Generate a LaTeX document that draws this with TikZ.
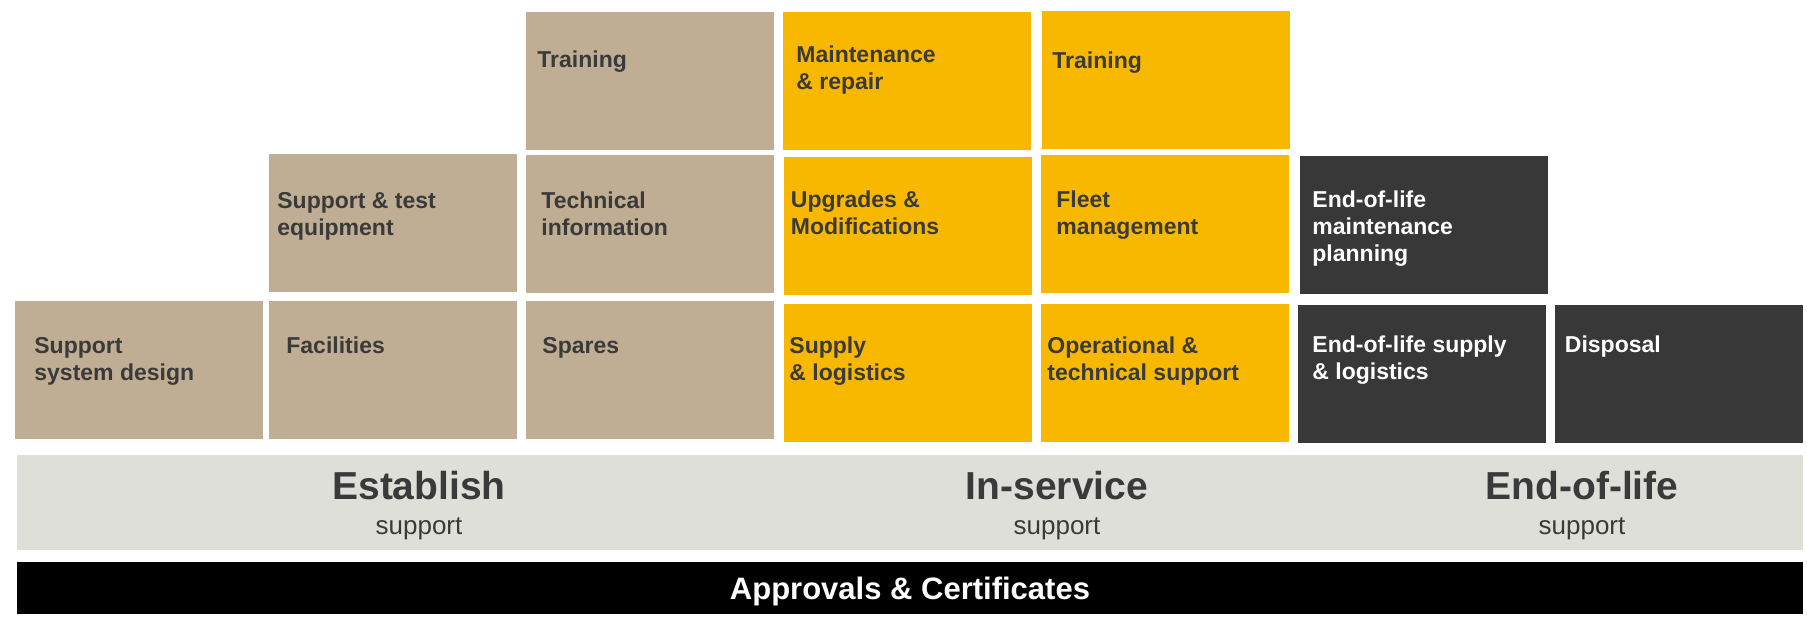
\documentclass[tikz,border=0pt]{standalone}
\usepackage{fontspec}
\setmainfont{Liberation Sans}
\definecolor{tan}{HTML}{BFAE94}
\definecolor{gold}{HTML}{F9B800}
\definecolor{dark}{HTML}{383838}
\definecolor{band}{HTML}{DFDFDA}
\definecolor{ink}{HTML}{3A3A3A}
\newcommand\mlines[1]{\begin{tabular}[t]{@{}l@{}}#1\end{tabular}}
\begin{document}
\begin{tikzpicture}[x=0.5pt,y=-0.5pt,
  cell/.style={anchor=north west, inner sep=0pt, minimum width=124pt, minimum height=69pt},
  txt/.style={anchor=base west, inner sep=0pt, text=ink, font=\bfseries\fontsize{11.5}{13.5}\selectfont},
  wtxt/.style={txt, text=white},
  phase/.style={anchor=base, inner sep=0pt, text=ink, font=\bfseries\fontsize{19.5}{23}\selectfont},
  sub/.style={anchor=base, inner sep=0pt, text=ink, font=\fontsize{13}{15}\selectfont}]
\useasboundingbox (0,0) rectangle (1807,621);

% Establish (tan)
\node[cell, fill=tan] (ssd) at (15,301) {};
\node[cell, fill=tan] (fac) at (268.5,301) {};
\node[cell, fill=tan] (spa) at (525.5,301) {};
\node[cell, fill=tan] (ste) at (268.5,154) {};
\node[cell, fill=tan] (tec) at (525.5,154.5) {};
\node[cell, fill=tan] (tre) at (525.5,11.5) {};
% In-service (gold)
\node[cell, fill=gold] (mnt) at (782.5,12) {};
\node[cell, fill=gold] (try) at (1042,11) {};
\node[cell, fill=gold] (upg) at (783.5,157) {};
\node[cell, fill=gold] (flt) at (1040.5,155) {};
\node[cell, fill=gold] (sal) at (783.5,304) {};
\node[cell, fill=gold] (opr) at (1040.5,304) {};
% End-of-life (dark)
\node[cell, fill=dark] (eom) at (1300,156) {};
\node[cell, fill=dark] (eos) at (1297.5,305) {};
\node[cell, fill=dark] (dsp) at (1555,305) {};

% cell texts
\node[txt] (ssdt) at (34,353) {\mlines{Support\\system design}};
\node[txt] (fact) at (286,353) {Facilities};
\node[txt] (spat) at (542,353) {Spares};
\node[txt] (stet) at (277,208) {\mlines{Support \& test\\equipment}};
\node[txt] (tect) at (541,208) {\mlines{Technical\\information}};
\node[txt] (tret) at (537,67) {Training};
\node[txt] (mntt) at (796,62) {\mlines{Maintenance\\\& repair}};
\node[txt] (tryt) at (1052,68) {Training};
\node[txt] (upgt) at (790.5,207) {\mlines{Upgrades \&\\Modifications}};
\node[txt] (fltt) at (1056,207) {\mlines{Fleet\\management}};
\node[txt] (salt) at (789,353) {\mlines{Supply\\\& logistics}};
\node[txt] (oprt) at (1047,353) {\mlines{Operational \&\\technical support}};
\node[wtxt] (eomt) at (1312,207) {\mlines{End-of-life\\maintenance\\planning}};
\node[wtxt] (eost) at (1312,352) {\mlines{End-of-life supply\\\& logistics}};
\node[wtxt] (dspt) at (1564.5,352) {Disposal};

% phase band
\node[anchor=north west, inner sep=0pt, minimum width=893pt, minimum height=47.5pt, fill=band] (phases) at (17,455) {};
\node[phase] (est) at (419,499) {Establish};
\node[sub] (ests) at (419,534) {support};
\node[phase] (ins) at (1057,499) {In-service};
\node[sub] (inss) at (1057,534) {support};
\node[phase] (eol) at (1582,499) {End-of-life};
\node[sub] (eols) at (1582,534) {support};

% approvals bar
\node[anchor=north west, inner sep=0pt, minimum width=893pt, minimum height=26pt, fill=black] (appr) at (17,562) {};
\node[anchor=base, inner sep=0pt, text=white, font=\bfseries\fontsize{15.5}{18}\selectfont] (apprt) at (910,599.5) {Approvals \& Certificates};
\end{tikzpicture}
\end{document}
